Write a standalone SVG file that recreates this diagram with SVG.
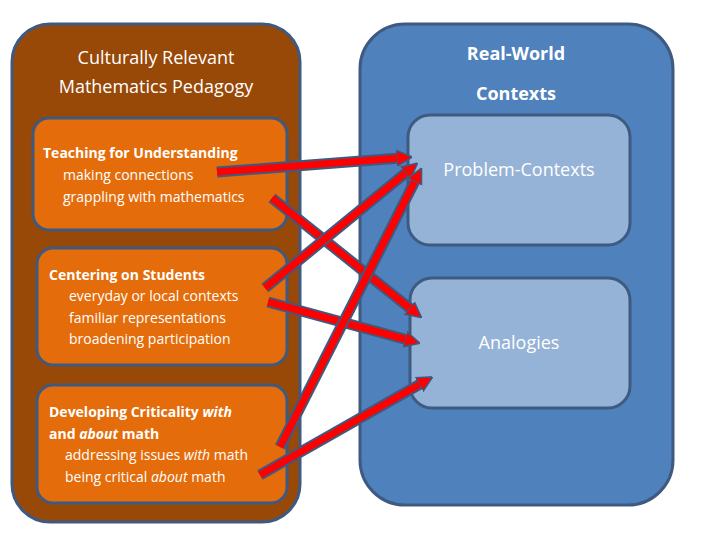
<svg xmlns="http://www.w3.org/2000/svg" width="720" height="540" viewBox="0 0 720 540">
<style>
text{font-family:"Open Sans","Liberation Sans",sans-serif;}
.w{fill:#fff;font-size:18px;}
.s{fill:#fff;font-size:14px;}
.b{font-weight:bold;}
.out{stroke:#3E5A80;stroke-width:3;}
.a1{stroke:#3E5A80;stroke-width:11;fill:none;}
.a2{stroke:#FF0000;stroke-width:7;fill:none;}
</style>
<defs>
<marker id="h" viewBox="0 0 10 10" refX="2" refY="5" markerWidth="2.2" markerHeight="2.6" orient="auto" markerUnits="strokeWidth">
<path d="M0,0 L10,5 L0,10 Z" fill="#FF0000" stroke="#3E5A80" stroke-width="1"/>
</marker>
</defs>
<g id="left"><rect x="12" y="24" width="288" height="498" rx="38" fill="#984807" class="out"/>
<text class="w" x="156" y="64" text-anchor="middle">Culturally Relevant</text>
<text class="w" x="156" y="93" text-anchor="middle">Mathematics Pedagogy</text></g>
<g id="n1"><rect x="33" y="118" width="254" height="112" rx="16" fill="#E46C0A" class="out"/>
<text class="s b" x="43" y="158">Teaching for Understanding</text>
<text class="s" x="63" y="180">making connections</text>
<text class="s" x="63" y="202">grappling with mathematics</text></g>
<g id="n2"><rect x="37" y="248" width="250" height="117" rx="16" fill="#E46C0A" class="out"/>
<text class="s b" x="49" y="280">Centering on Students</text>
<text class="s" x="69" y="301">everyday or local contexts</text>
<text class="s" x="69" y="323">familiar representations</text>
<text class="s" x="69" y="344">broadening participation</text></g>
<g id="n3"><rect x="37" y="385" width="250" height="118" rx="16" fill="#E46C0A" class="out"/>
<text class="s b" x="49" y="417">Developing Criticality <tspan font-style="italic">with</tspan></text>
<text class="s b" x="49" y="439">and <tspan font-style="italic">about</tspan> math</text>
<text class="s" x="65" y="460">addressing issues <tspan font-style="italic">with</tspan> math</text>
<text class="s" x="65" y="482">being critical <tspan font-style="italic">about</tspan> math</text></g>
<g id="right"><rect x="360" y="24" width="313" height="481" rx="45" fill="#4F81BD" class="out"/>
<text class="w b" x="516" y="60" text-anchor="middle" font-size="26">Real-World</text>
<text class="w b" x="516" y="100" text-anchor="middle" font-size="26">Contexts</text></g>
<g id="pc"><rect x="408" y="115" width="222" height="130" rx="22" fill="#95B3D7" class="out"/>
<text class="w" x="519" y="176" text-anchor="middle">Problem-Contexts</text></g>
<g id="an"><rect x="410" y="278" width="220" height="130" rx="22" fill="#95B3D7" class="out"/>
<text class="w" x="519" y="349" text-anchor="middle">Analogies</text></g>
<g id="connectors">
<path class="a1" d="M217,172 L400,158"/><path class="a2" d="M217,172 L400,158" marker-end="url(#h)"/>
<path class="a1" d="M272,198 L412,310"/><path class="a2" d="M272,198 L412,310" marker-end="url(#h)"/>
<path class="a1" d="M265,288 L408,171"/><path class="a2" d="M265,288 L408,171" marker-end="url(#h)"/>
<path class="a1" d="M268,302 L408,340"/><path class="a2" d="M268,302 L408,340" marker-end="url(#h)"/>
<path class="a1" d="M280,447 L416,179"/><path class="a2" d="M280,447 L416,179" marker-end="url(#h)"/>
<path class="a1" d="M260,475 L422,383"/><path class="a2" d="M260,475 L422,383" marker-end="url(#h)"/>
</g>
</svg>
